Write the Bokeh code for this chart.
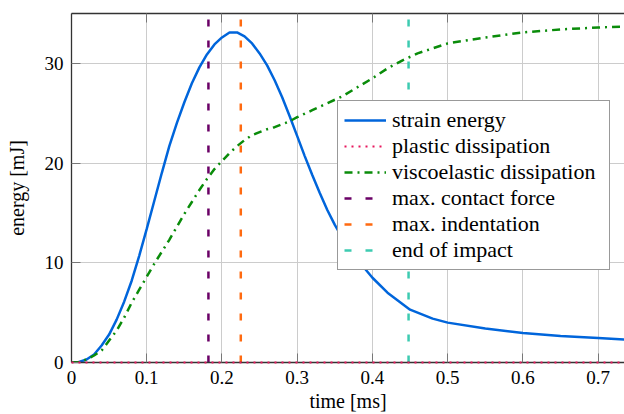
from bokeh.plotting import figure
from bokeh.models import FixedTicker, LinearAxis, Range1d
from bokeh.embed import file_html
from bokeh.resources import INLINE

# ---- data ----
t_strain = [0, 0.01, 0.02, 0.03, 0.04, 0.05, 0.06, 0.07, 0.08, 0.09, 0.10, 0.11, 0.12,
            0.13, 0.14, 0.15, 0.16, 0.17, 0.18, 0.19, 0.20, 0.21, 0.22, 0.23, 0.24,
            0.25, 0.26, 0.27, 0.28, 0.29, 0.30, 0.31, 0.32, 0.33, 0.34, 0.35, 0.36,
            0.38, 0.40, 0.42, 0.45, 0.48, 0.50, 0.55, 0.60, 0.65, 0.70, 0.735]
strain = [0, 0.05, 0.3, 0.8, 1.7, 2.8, 4.3, 6.1, 8.2, 10.7, 13.4, 16.2, 19.0,
          21.7, 24.0, 26.1, 28.0, 29.6, 30.9, 31.9, 32.6, 33.1, 33.1, 32.7, 32.0,
          31.0, 29.8, 28.3, 26.6, 24.7, 22.7, 20.7, 18.8, 17.0, 15.3, 13.8, 12.5,
          10.3, 8.5, 7.0, 5.3, 4.4, 4.0, 3.4, 2.95, 2.65, 2.45, 2.3]

t_visco = [0, 0.01, 0.02, 0.03, 0.04, 0.05, 0.06, 0.07, 0.08, 0.09, 0.10, 0.11, 0.12,
           0.13, 0.14, 0.15, 0.16, 0.17, 0.18, 0.19, 0.20, 0.21, 0.22, 0.23, 0.24,
           0.25, 0.26, 0.27, 0.28, 0.29, 0.30, 0.32, 0.34, 0.36, 0.38, 0.40, 0.42,
           0.44, 0.46, 0.48, 0.50, 0.55, 0.60, 0.65, 0.70, 0.735]
visco = [0, 0.05, 0.3, 0.7, 1.2, 2.2, 3.2, 4.5, 6.0, 7.3, 8.6, 9.9, 11.1,
         12.3, 13.6, 14.9, 16.1, 17.3, 18.4, 19.4, 20.2, 21.0, 21.7, 22.3, 22.8,
         23.1, 23.4, 23.6, 23.9, 24.2, 24.6, 25.3, 26.0, 26.7, 27.6, 28.5, 29.5,
         30.3, 31.0, 31.5, 32.0, 32.6, 33.1, 33.4, 33.6, 33.7]

t_plastic = [0, 0.1, 0.2, 0.3, 0.4, 0.5, 0.6, 0.7, 0.735]
plastic = [0, 0, 0, 0, 0, 0, 0, 0, 0]

t_max_contact_force = 0.182
t_max_indentation = 0.225
t_end_of_impact = 0.448

x_ticks = [0, 0.1, 0.2, 0.3, 0.4, 0.5, 0.6, 0.7]
x_tick_labels = ["0", "0.1", "0.2", "0.3", "0.4", "0.5", "0.6", "0.7"]
y_ticks = [0, 10, 20, 30]
y_tick_labels = ["0", "10", "20", "30"]

x_min, x_max = 0, 0.735
y_min, y_max = 0, 35

FONT = "Liberation Serif"
TICK_FS = "19px"
LABEL_FS = "20px"
LEGEND_FS = "22px"

p = figure(width=624, height=414, x_range=Range1d(x_min, x_max),
           y_range=Range1d(y_min, y_max), output_backend="svg",
           toolbar_location=None, min_border_left=71, min_border_right=0,
           min_border_top=13, min_border_bottom=52)
p.outline_line_color = None
p.background_fill_color = "white"

xt = FixedTicker(ticks=x_ticks, minor_ticks=[])
yt = FixedTicker(ticks=y_ticks, minor_ticks=[])

for ax, tk, labels in ((p.xaxis[0], xt, x_tick_labels), (p.yaxis[0], yt, y_tick_labels)):
    ax.ticker = tk
    ax.major_label_overrides = {v: s for v, s in zip(tk.ticks, labels)}
    ax.major_tick_in = 9
    ax.major_tick_out = 0
    ax.minor_tick_in = 0
    ax.minor_tick_out = 0
    ax.major_tick_line_color = "#777777"
    ax.axis_line_color = "#333333"
    ax.axis_line_width = 1.3
    ax.major_label_text_font = FONT
    ax.major_label_text_font_size = TICK_FS
    ax.major_label_text_color = "black"
    ax.axis_label_text_font = FONT
    ax.axis_label_text_font_size = LABEL_FS
    ax.axis_label_text_font_style = "normal"
    ax.axis_label_text_color = "black"

p.xaxis[0].axis_label = "time [ms]"
p.xaxis[0].major_label_standoff = 8
p.xaxis[0].axis_label_standoff = 3
p.yaxis[0].axis_label = "energy [mJ]"
p.yaxis[0].major_label_standoff = 8
p.yaxis[0].axis_label_standoff = 14

top = LinearAxis(ticker=xt, major_tick_in=9, major_tick_out=0, minor_tick_in=0,
                 minor_tick_out=0, major_label_text_font_size="0px",
                 major_label_standoff=0, major_tick_line_color="#777777",
                 axis_line_color="#333333", axis_line_width=1.3)
top.major_label_text_color = None
p.add_layout(top, "above")

p.xgrid.ticker = xt
p.ygrid.ticker = yt
p.xgrid.grid_line_color = "#cccccc"
p.ygrid.grid_line_color = "#cccccc"
p.xgrid.grid_line_width = 1
p.ygrid.grid_line_width = 1

LW = 2.5
p.line(t_strain, strain, line_color="#0065DB", line_width=LW, legend_label="strain energy")
pl = p.line(t_plastic, plastic, line_color="#E8175D", line_width=2.2, line_dash="2 5",
            legend_label="plastic dissipation")
pl.level = "overlay"
p.line(t_visco, visco, line_color="#0A8C0A", line_width=LW, line_dash="8 5 2 5",
       legend_label="viscoelastic dissipation")
p.line([t_max_contact_force, t_max_contact_force], [y_min, y_max], line_color="#6A0066",
       line_width=LW, line_dash="7 14", legend_label="max. contact force")
p.line([t_max_indentation, t_max_indentation], [y_min, y_max], line_color="#FF6A10",
       line_width=LW, line_dash="7 14", legend_label="max. indentation")
p.line([t_end_of_impact, t_end_of_impact], [y_min, y_max], line_color="#3DCBB1",
       line_width=LW, line_dash="7 14", legend_label="end of impact")

lg = p.legend[0]
lg.location = (266, 92)
lg.label_text_font = FONT
lg.label_text_font_size = LEGEND_FS
lg.label_text_color = "black"
lg.glyph_width = 42
lg.glyph_height = 20
lg.label_height = 20
lg.label_width = 211
lg.spacing = 0
lg.padding = 6
lg.margin = 0
lg.label_standoff = 6
lg.border_line_color = "#333333"
lg.border_line_width = 1.3
lg.background_fill_color = "white"
lg.background_fill_alpha = 1

open("out.html", "w").write(file_html(p, INLINE))
